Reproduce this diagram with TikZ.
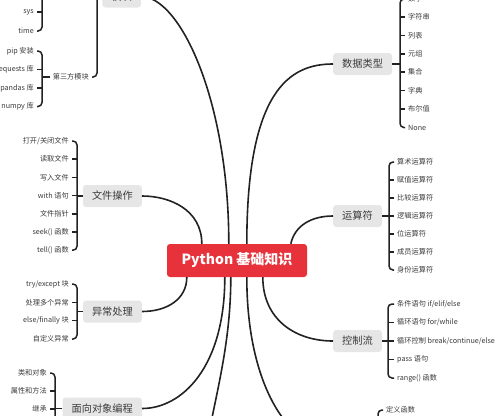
\documentclass[tikz,border=0pt]{standalone}
\usepackage{fontspec}
\setmainfont{Noto Sans CJK SC}
\definecolor{boxgray}{HTML}{E6E6E6}
\definecolor{centerred}{HTML}{E8323B}
\definecolor{linec}{HTML}{222222}
\definecolor{txt}{HTML}{3A3A3A}
\tikzset{
  branch/.style={fill=boxgray, rounded corners=3pt, minimum height=22pt, inner xsep=9pt, inner ysep=0pt, text=txt, font=\fontsize{10.2}{12}\selectfont},
  itemR/.style={anchor=west, inner sep=3pt, text=txt, font=\fontsize{7.2}{8}\selectfont},
  itemL/.style={anchor=east, inner sep=3pt, text=txt, font=\fontsize{7.2}{8}\selectfont},
  conn/.style={draw=linec, line width=1.6pt},
  brk/.style={draw=linec, line width=1.5pt, rounded corners=4pt},
  tick/.style={draw=linec, line width=1.5pt},
}
\begin{document}
\begin{tikzpicture}[x=1pt,y=-1pt]
\useasboundingbox (0,0) rectangle (500,415);
\clip (0,0) rectangle (500,415);

% centre
\node[fill=centerred, rounded corners=3pt, minimum width=140pt, minimum height=33pt, text=white, font=\fontsize{14}{16}\selectfont\bfseries] (c) at (237,260.5) {Python 基础知识};

% branches
\node[branch, anchor=east] (mk) at (141,-3.5) {模块};
\node[branch, anchor=east] (wj) at (142,196) {文件操作};
\node[branch, anchor=east] (yc) at (142,311.5) {异常处理};
\node[branch, anchor=east] (mx) at (142,408.5) {面向对象编程};
\node[branch, anchor=west] (sj) at (333,64) {数据类型};
\node[branch, anchor=west] (ys) at (333,216) {运算符};
\node[branch, anchor=west] (kz) at (333,341) {控制流};
\coordinate (offL) at (206,450);
\coordinate (offR) at (330,447);

% connectors from centre
\draw[conn] ([xshift=62pt]c.north west) .. controls +(0,-144) and +(39,0) .. (mk.east);
\draw[conn] ([xshift=35pt]c.north west) .. controls +(0,-34) and +(28,0) .. (wj.east);
\draw[conn] ([xshift=80pt]c.north west) .. controls +(0,-154) and +(-43,0) .. (sj.west);
\draw[conn] ([xshift=124pt]c.north west) .. controls +(4,-18) and +(-22,0) .. (ys.west);
\draw[conn] ([xshift=20pt]c.south west) .. controls +(0,22) and +(25,0) .. (yc.east);
\draw[conn] ([xshift=58pt]c.south west) .. controls +(0,90) and +(40,0) .. (mx.east);
\draw[conn] ([xshift=64pt]c.south west) .. controls +(0,70) and +(8,-50) .. (offL);
\draw[conn] ([xshift=80pt]c.south west) .. controls +(0,110) and +(-40,0) .. (offR);
\draw[conn] ([xshift=96pt]c.south west) .. controls +(0,42) and +(-38,0) .. (kz.west);

% ---------- 数据类型 ----------
\coordinate (sjb) at (400,64);
\node[itemR] (sj1) at (405,-1) {数字};
\node[itemR] (sj2) at (405,17.2) {字符串};
\node[itemR] (sj3) at (405,35.5) {列表};
\node[itemR] (sj4) at (405,53.8) {元组};
\node[itemR] (sj5) at (405,72.2) {集合};
\node[itemR] (sj6) at (405,90.5) {字典};
\node[itemR] (sj7) at (405,108.8) {布尔值};
\node[itemR] (sj8) at (405,127.5) {None};
\draw[brk] (sj1.west) -- (sj1.west -| sjb) -- (sj8.west -| sjb) -- (sj8.west);
\foreach \i in {2,...,7} \draw[tick] (sj\i.west -| sjb) -- (sj\i.west);
\draw[tick] (sj.east) -- (sjb);

% ---------- 运算符 ----------
\coordinate (ysb) at (389,216);
\node[itemR] (ys1) at (394,162) {算术运算符};
\node[itemR] (ys2) at (394,180) {赋值运算符};
\node[itemR] (ys3) at (394,198) {比较运算符};
\node[itemR] (ys4) at (394,216) {逻辑运算符};
\node[itemR] (ys5) at (394,234) {位运算符};
\node[itemR] (ys6) at (394,252) {成员运算符};
\node[itemR] (ys7) at (394,270) {身份运算符};
\draw[brk] (ys1.west) -- (ys1.west -| ysb) -- (ys7.west -| ysb) -- (ys7.west);
\foreach \i in {2,...,6} \draw[tick] (ys\i.west -| ysb) -- (ys\i.west);
\draw[tick] (ys.east) -- (ysb);

% ---------- 控制流 ----------
\coordinate (kzb) at (388,341);
\node[itemR] (kz1) at (394,304) {条件语句 if/elif/else};
\node[itemR] (kz2) at (394,322.5) {循环语句 for/while};
\node[itemR] (kz3) at (394,341) {循环控制 break/continue/else};
\node[itemR] (kz4) at (394,359.5) {pass 语句};
\node[itemR] (kz5) at (394,378) {range() 函数};
\draw[brk] (kz1.west) -- (kz1.west -| kzb) -- (kz5.west -| kzb) -- (kz5.west);
\foreach \i in {2,...,4} \draw[tick] (kz\i.west -| kzb) -- (kz\i.west);
\draw[tick] (kz.east) -- (kzb);

% ---------- 函数 (below) ----------
\coordinate (hsb) at (378,450);
\node[itemR] (hs1) at (383,410) {定义函数};
\draw[brk] (hs1.west) -- (hs1.west -| hsb) -- (hsb);

% ---------- 文件操作 ----------
\coordinate (wjb) at (77,196);
\node[itemL] (wj1) at (72,141) {打开/关闭文件};
\node[itemL] (wj2) at (72,159.2) {读取文件};
\node[itemL] (wj3) at (72,177.4) {写入文件};
\node[itemL] (wj4) at (72,195.6) {with 语句};
\node[itemL] (wj5) at (72,213.8) {文件指针};
\node[itemL] (wj6) at (72,232) {seek() 函数};
\node[itemL] (wj7) at (72,250.2) {tell() 函数};
\draw[brk] (wj1.east) -- (wj1.east -| wjb) -- (wj7.east -| wjb) -- (wj7.east);
\foreach \i in {2,...,6} \draw[tick] (wj\i.east -| wjb) -- (wj\i.east);
\draw[tick] (wj.west) -- (wjb);

% ---------- 异常处理 ----------
\coordinate (ycb) at (77,311.5);
\node[itemL] (yc1) at (72,284) {try/except 块};
\node[itemL] (yc2) at (72,302.3) {处理多个异常};
\node[itemL] (yc3) at (72,320.7) {else/finally 块};
\node[itemL] (yc4) at (72,339) {自定义异常};
\draw[brk] (yc1.east) -- (yc1.east -| ycb) -- (yc4.east -| ycb) -- (yc4.east);
\foreach \i in {2,3} \draw[tick] (yc\i.east -| ycb) -- (yc\i.east);
\draw[tick] (yc.west) -- (ycb);

% ---------- 面向对象编程 ----------
\coordinate (mxb) at (55,408.5);
\coordinate (mxend) at (55,450);
\node[itemL] (mx1) at (50,373) {类和对象};
\node[itemL] (mx2) at (50,391) {属性和方法};
\node[itemL] (mx3) at (50,409) {继承};
\draw[brk] (mx1.east) -- (mx1.east -| mxb) -- (mxend);
\foreach \i in {2,3} \draw[tick] (mx\i.east -| mxb) -- (mx\i.east);
\draw[tick] (mx.west) -- (mxb);

% ---------- 模块 ----------
\coordinate (mkb) at (97,-3.5);
\coordinate (mktop) at (97,-60);
\node[itemL] (sf) at (92,77) {第三方模块};
\draw[brk] (mktop) -- (sf.east -| mkb) -- (sf.east);
\draw[tick] (mk.west) -- (mkb);

% 第三方模块 sub-bracket
\coordinate (sfb) at (42,77);
\node[itemL] (sf1) at (37,51) {pip 安装};
\node[itemL] (sf2) at (37,69.5) {requests 库};
\node[itemL] (sf3) at (37,88) {pandas 库};
\node[itemL] (sf4) at (37,106.5) {numpy 库};
\draw[brk] (sf1.east) -- (sf1.east -| sfb) -- (sf4.east -| sfb) -- (sf4.east);
\foreach \i in {2,3} \draw[tick] (sf\i.east -| sfb) -- (sf\i.east);
\draw[tick] (sf.west) -- (sfb);

% top sub-bracket (sys / time)
\coordinate (nzb) at (42,-30);
\node[itemL] (nz1) at (37,12) {sys};
\node[itemL] (nz2) at (37,31) {time};
\draw[brk] (nzb) -- (nz2.east -| nzb) -- (nz2.east);
\draw[tick] (nz1.east -| nzb) -- (nz1.east);
\end{tikzpicture}
\end{document}
